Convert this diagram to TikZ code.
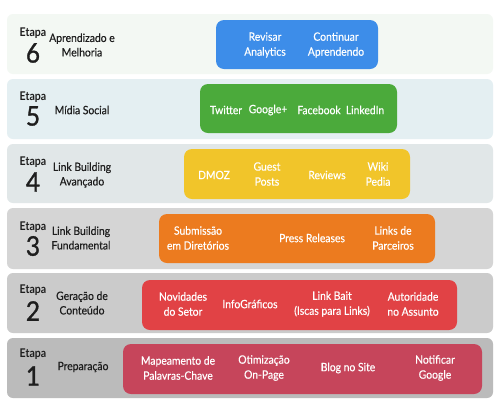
\documentclass[tikz,border=0pt]{standalone}
\usepackage{fontspec}
\setmainfont{Lato}[FakeStretch=0.9,FakeBold=0.4]
\newfontfamily\numfont{Lato}[FakeStretch=0.9,FakeBold=1.2]
\newfontfamily\etapafont{Lato Bold}[FakeStretch=0.88]
\definecolor{bgsix}{HTML}{F3F8F3}
\definecolor{bgfive}{HTML}{E4EFF2}
\definecolor{bgfour}{HTML}{E1E7E8}
\definecolor{bgthree}{HTML}{D5D5D5}
\definecolor{bgtwo}{HTML}{CBCBCB}
\definecolor{bgone}{HTML}{BBBBBB}
\definecolor{cblue}{HTML}{3D8DE9}
\definecolor{cgreen}{HTML}{4BAA3B}
\definecolor{cyellow}{HTML}{F1C52A}
\definecolor{corange}{HTML}{EC7B1F}
\definecolor{cred}{HTML}{E14245}
\definecolor{ccrimson}{HTML}{C6455B}
\definecolor{txt}{HTML}{1E1E1E}
\tikzset{
  band/.style={rounded corners=6pt, draw=none},
  itembox/.style={rounded corners=8pt, draw=none},
  etapa/.style={font=\etapafont\fontsize{12}{12}\selectfont, text=txt, inner sep=0pt},
  num/.style={font=\numfont\fontsize{27}{27}\selectfont, text=txt, inner sep=0pt},
  lbl/.style={font=\fontsize{11.5}{14.5}\selectfont, text=txt, align=center, inner sep=0pt},
  item/.style={font=\fontsize{11.5}{15}\selectfont, text=white, align=center, inner sep=0pt}
}
\begin{document}
\begin{tikzpicture}[x=1pt,y=-1pt]
\useasboundingbox[fill=white] (0,0) rectangle (500,400);
% bands
\fill[band,bgsix] (7,14) rectangle (493,74);
\fill[band,bgfive] (7,79) rectangle (493,139);
\fill[band,bgfour] (7,144) rectangle (493,203);
\fill[band,bgthree] (7,208) rectangle (493,269);
\fill[band,bgtwo] (7,273) rectangle (493,333);
\fill[band,bgone] (7,338) rectangle (493,398);
% item boxes
\fill[itembox,cblue] (216,20) rectangle (378,69);
\fill[itembox,cgreen] (200,84) rectangle (397,133);
\fill[itembox,cyellow] (184,149) rectangle (410,199);
\fill[itembox,corange] (159,214) rectangle (435,263);
\fill[itembox,cred] (142,280) rectangle (457,330);
\fill[itembox,ccrimson] (123,344) rectangle (482,394);
% stage 6
\node[etapa] (e6) at (33,33) {Etapa};
\node[num] (n6) at (33,53) {6};
\node[lbl] (l6) at (82,45) {Aprendizado e\\Melhoria};
\node[item] (i6a) at (265,45) {Revisar\\Analytics};
\node[item] (i6b) at (336,45) {Continuar\\Aprendendo};
% stage 5
\node[etapa] (e5) at (33,97) {Etapa};
\node[num] (n5) at (33,116) {5};
\node[lbl] (l5) at (82,110) {Mídia Social};
\node[item] (i5a) at (226,110) {Twitter};
\node[item] (i5b) at (268,110) {Google+};
\node[item] (i5c) at (319,110) {Facebook};
\node[item] (i5d) at (365,110) {LinkedIn};
% stage 4
\node[etapa] (e4) at (33,162) {Etapa};
\node[num] (n4) at (33,182) {4};
\node[lbl] (l4) at (82,175) {Link Building\\Avançado};
\node[item] (i4a) at (214,175) {DMOZ};
\node[item] (i4b) at (267,174) {Guest\\Posts};
\node[item] (i4c) at (327,175) {Reviews};
\node[item] (i4d) at (378,174) {Wiki\\Pedia};
% stage 3
\node[etapa] (e3) at (33,227) {Etapa};
\node[num] (n3) at (33,246) {3};
\node[lbl] (l3) at (81,238) {Link Building\\Fundamental};
\node[item] (i3a) at (198,238) {Submissão\\em Diretórios};
\node[item] (i3b) at (312,238) {Press Releases};
\node[item] (i3c) at (393,238) {Links de\\Parceiros};
% stage 2
\node[etapa] (e2) at (33,290) {Etapa};
\node[num] (n2) at (33,311) {2};
\node[lbl] (l2) at (82,303) {Geração de\\Conteúdo};
\node[item] (i2a) at (183,304) {Novidades\\do Setor};
\node[item] (i2b) at (250,304) {InfoGráficos};
\node[item] (i2c) at (332,304) {Link Bait\\(Iscas para Links)};
\node[item] (i2d) at (413,304) {Autoridade\\no Assunto};
% stage 1
\node[etapa] (e1) at (33,354) {Etapa};
\node[num] (n1) at (33,376) {1};
\node[lbl] (l1) at (83,367) {Preparação};
\node[item] (i1a) at (178,368) {Mapeamento de\\Palavras-Chave};
\node[item] (i1b) at (264,368) {Otimização\\On-Page};
\node[item] (i1c) at (348,368) {Blog no Site};
\node[item] (i1d) at (435,368) {Notificar\\Google};
\end{tikzpicture}
\end{document}
